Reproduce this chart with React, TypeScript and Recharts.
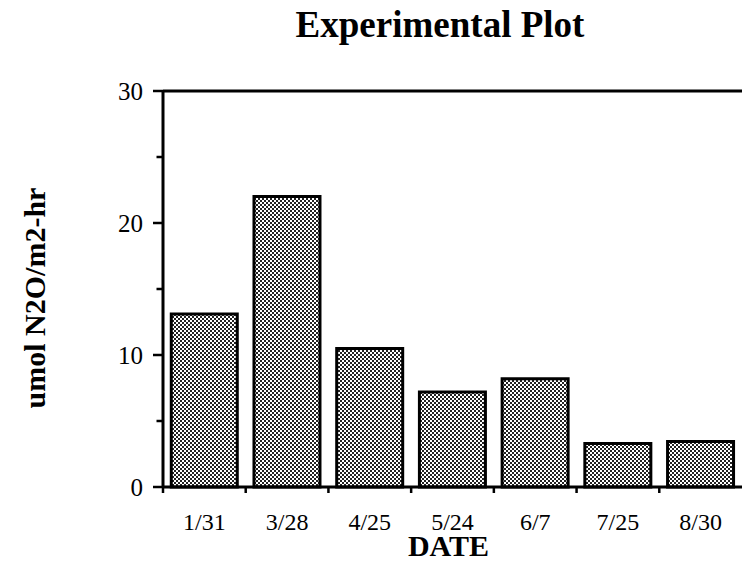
import React from 'react';
import { BarChart, Bar, XAxis, YAxis, ReferenceLine } from 'recharts';

const dates = ['1/31', '3/28', '4/25', '5/24', '6/7', '7/25', '8/30'];
const values = [13.1, 22.0, 10.5, 7.2, 8.2, 3.3, 3.45];
const yTicks = [0, 5, 10, 15, 20, 25, 30];
const labelledYTicks = [0, 10, 20, 30];

const data = dates.map((d, i) => ({ date: d, value: values[i] }));

const FONT = '"Liberation Serif", "Times New Roman", Times, serif';
const X_TICK_MARGIN = 26;
const Y_TICK_MARGIN = 20;

const YLabel = (props: any) => {
  const vb = props.viewBox || { x: 0, y: 0, width: 0, height: 0 };
  const x = vb.x + 45;
  const y = vb.y + vb.height / 2 + 9;
  return (
    <text
      x={x}
      y={y}
      transform={`rotate(-90 ${x} ${y})`}
      textAnchor="middle"
      fontFamily={FONT}
      fontWeight="bold"
      fontSize={30}
      fill="#000"
    >
      umol N2O/m2-hr
    </text>
  );
};

const XLabel = (props: any) => {
  const vb = props.viewBox || { x: 0, y: 0, width: 0, height: 0 };
  return (
    <text
      x={vb.x + vb.width / 2 - 4}
      y={vb.y + 69}
      textAnchor="middle"
      fontFamily={FONT}
      fontWeight="bold"
      fontSize={30}
      fill="#000"
    >
      DATE
    </text>
  );
};

const XTick = (props: any) => {
  const { x, y, payload } = props;
  const off = payload && payload.offset ? payload.offset : 0;
  const axisY = y - X_TICK_MARGIN;
  return (
    <g>
      <line x1={x - off} x2={x - off} y1={axisY} y2={axisY + 6} stroke="#000" strokeWidth={2.5} />
      <text x={x} y={y} dy="0.71em" textAnchor="middle" fontFamily={FONT} fontSize={24} fill="#000">
        {payload.value}
      </text>
    </g>
  );
};

const YTick = (props: any) => {
  const { x, y, payload } = props;
  const axisX = x + Y_TICK_MARGIN;
  const major = labelledYTicks.includes(payload.value);
  return (
    <g>
      <line x1={axisX - (major ? 10 : 6.5)} x2={axisX} y1={y} y2={y} stroke="#000" strokeWidth={2.5} />
      {major ? (
        <text x={axisX - 20} y={y} dy="0.355em" textAnchor="end" fontFamily={FONT} fontSize={25} fill="#000">
          {payload.value}
        </text>
      ) : null}
    </g>
  );
};

export default function App() {
  return (
    <div style={{ position: 'absolute', left: 0, top: 0, width: 742, height: 579, background: '#fff' }}>
      <svg width={0} height={0} style={{ position: 'absolute' }}>
        <defs>
          <pattern id="checker" patternUnits="userSpaceOnUse" width={4} height={4}>
            <rect x={0} y={0} width={4} height={4} fill="#fff" />
            <rect x={0} y={0} width={2} height={2} fill="#222" />
            <rect x={2} y={2} width={2} height={2} fill="#222" />
          </pattern>
        </defs>
      </svg>
      <div
        style={{
          position: 'absolute',
          left: 140,
          top: 6,
          width: 600,
          textAlign: 'center',
          fontFamily: FONT,
          fontWeight: 'bold',
          fontSize: 37,
          lineHeight: '37px',
          color: '#000',
        }}
      >
        Experimental Plot
      </div>
      <BarChart
        width={742}
        height={579}
        data={data}
        margin={{ top: 91, right: 0, left: 0, bottom: 0 }}
        barCategoryGap="10%"
      >
        <XAxis
          dataKey="date"
          height={92}
          tickSize={0}
          tickMargin={X_TICK_MARGIN}
          axisLine={{ stroke: '#000', strokeWidth: 3 }}
          tickLine={false}
          tick={<XTick />}
          interval={0}
          label={<XLabel />}
        />
        <YAxis
          width={163}
          domain={[0, 30]}
          ticks={yTicks}
          interval={0}
          tickSize={0}
          tickMargin={Y_TICK_MARGIN}
          axisLine={{ stroke: '#000', strokeWidth: 3 }}
          tickLine={false}
          tick={<YTick />}
          label={<YLabel />}
        />
        <ReferenceLine y={30} stroke="#000" strokeWidth={3} />
        <Bar
          dataKey="value"
          fill="url(#checker)"
          stroke="#000"
          strokeWidth={3}
          isAnimationActive={false}
        />
      </BarChart>
    </div>
  );
}
